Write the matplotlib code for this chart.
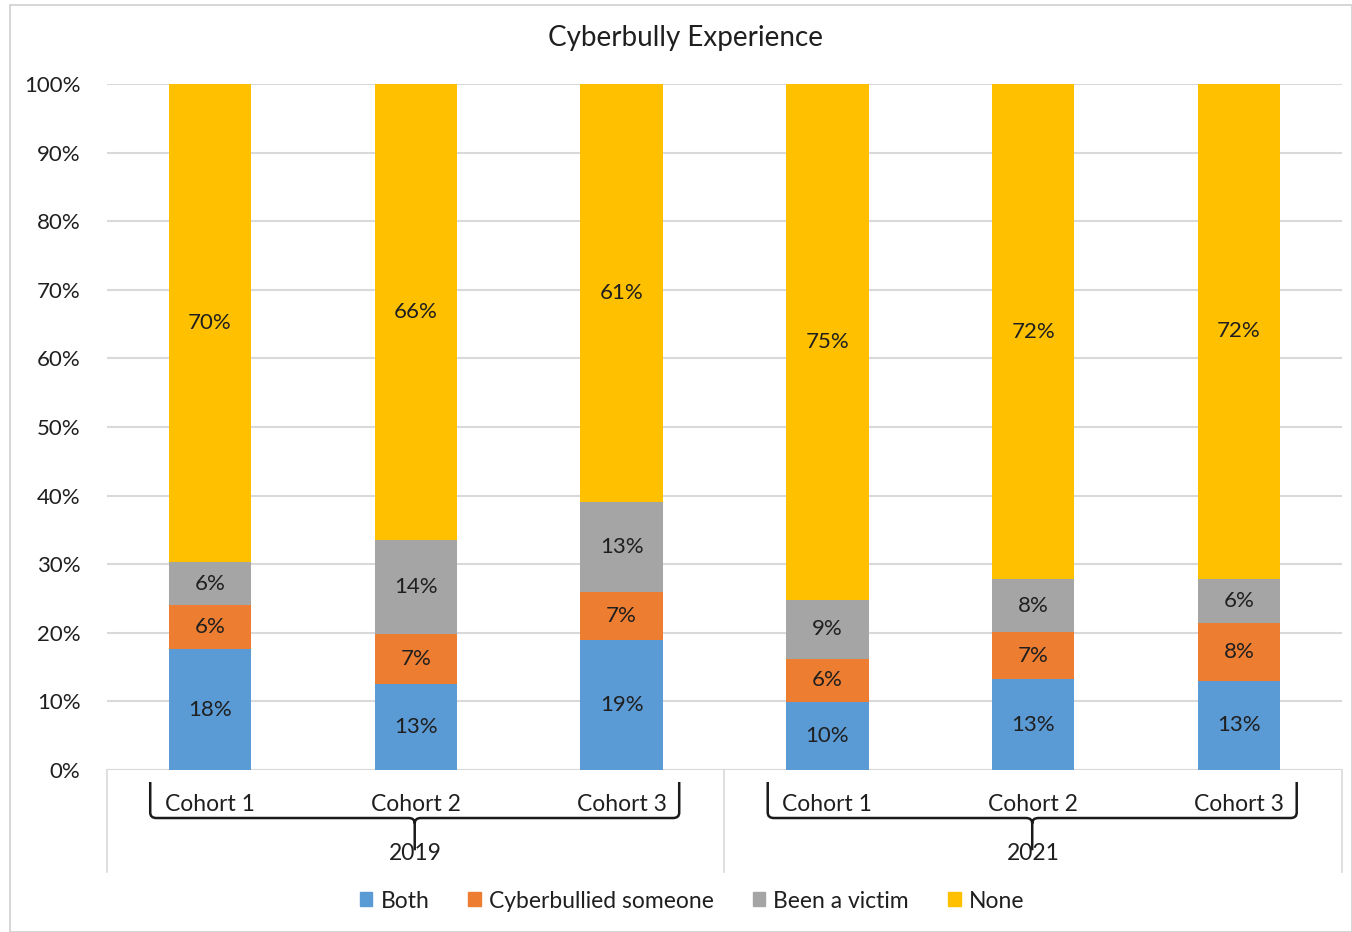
import matplotlib
matplotlib.use("Agg")
import matplotlib.pyplot as plt
from matplotlib.path import Path
from matplotlib.patches import PathPatch, Rectangle
from matplotlib.lines import Line2D
import matplotlib.transforms as mtrans
import numpy as np

plt.rcParams['font.family'] = ['Lato', 'DejaVu Sans']

years = ["2019", "2021"]
cohorts = ["Cohort 1", "Cohort 2", "Cohort 3"]
series_names = ["Both", "Cyberbullied someone", "Been a victim", "None"]
both = [17.6, 12.6, 19.0, 9.9, 13.2, 13.0]
cyberbullied = [6.4, 7.2, 6.9, 6.3, 6.9, 8.45]
victim = [6.3, 13.7, 13.2, 8.6, 7.7, 6.4]
none = [69.7, 66.5, 60.9, 75.2, 72.2, 72.15]
colors = ["#5B9BD5", "#ED7D31", "#A5A5A5", "#FFC000"]
yticks = [0, 10, 20, 30, 40, 50, 60, 70, 80, 90, 100]

W, H = 1352, 932
TXT = "#1f1f1f"
fig = plt.figure(figsize=(W / 100, H / 100), dpi=100)
fig.patch.set_facecolor("white")
fig.add_artist(Rectangle((10 / W, 0), 1 - 10 / W, 1 - 5 / H, transform=fig.transFigure,
                         fill=False, edgecolor="#D0D0D0", linewidth=1.2))

ax = fig.add_axes([107 / W, (H - 770) / H, (1342 - 107) / W, (770 - 84) / H])
n = len(both)
x = np.arange(n)
series = [both, cyberbullied, victim, none]
bottom = np.zeros(n)
for vals, c, name in zip(series, colors, series_names):
    vals = np.array(vals)
    ax.bar(x, vals, 0.40, bottom=bottom, color=c, label=name, zorder=3)
    for xi, b, v in zip(x, bottom, vals):
        ax.text(xi, b + v / 2, f"{round(v)}%", ha="center", va="center",
                fontsize=16, color=TXT, zorder=4)
    bottom = bottom + vals

ax.set_xlim(-0.5, n - 0.5)
ax.set_ylim(0, 100)
ax.set_yticks(yticks)
ax.set_yticklabels([f"{t}%" for t in yticks], fontsize=16, color=TXT)
ax.tick_params(axis="y", length=0, pad=19)
ax.set_xticks([])
for s in ax.spines.values():
    s.set_visible(False)
ax.grid(axis="y", color="#D9D9D9", linewidth=1.5, zorder=0)
ax.axhline(0, color="#D9D9D9", linewidth=1.5, zorder=2)

trans = mtrans.blended_transform_factory(ax.transData, ax.transAxes)
for i in range(n):
    ax.text(x[i], -0.05, cohorts[i % 3], transform=trans, ha="center", va="center",
            fontsize=16.5, color=TXT)
for g, yr in enumerate(years):
    ax.text(g * 3 + 1, -0.121, yr, transform=trans, ha="center", va="center",
            fontsize=16.5, color=TXT)
for xs in [-0.5, 2.5, 5.5]:
    ax.add_line(Line2D([xs, xs], [0, -0.149], transform=trans, color="#D9D9D9",
                       linewidth=1.2, clip_on=False))

def brace(x0, x1, ytop=-0.0175, ymid=-0.07, ytip=-0.117):
    xc = (x0 + x1) / 2
    r = 0.03
    dy = 0.008
    verts = [(x0, ytop), (x0, ymid + dy), (x0, ymid), (x0 + r, ymid),
             (xc - r, ymid), (xc, ymid), (xc, ymid - dy), (xc, ytip),
             (xc, ymid - dy), (xc, ymid), (xc + r, ymid),
             (x1 - r, ymid), (x1, ymid), (x1, ymid + dy), (x1, ytop)]
    codes = [Path.MOVETO, Path.LINETO, Path.CURVE3, Path.CURVE3,
             Path.LINETO, Path.CURVE3, Path.CURVE3, Path.LINETO,
             Path.MOVETO, Path.CURVE3, Path.CURVE3,
             Path.LINETO, Path.CURVE3, Path.CURVE3, Path.LINETO]
    p = PathPatch(Path(verts, codes), transform=trans, fill=False,
                  edgecolor="#1a1a1a", linewidth=1.8, clip_on=False)
    ax.add_patch(p)

for g in range(2):
    brace(g * 3 - 0.29, g * 3 + 2.28)

fig.text(686 / W, (H - 38) / H, "Cyberbully Experience", ha="center", va="center",
         fontsize=20, color=TXT)

handles = [Rectangle((0, 0), 1, 1, color=c) for c in colors]
fig.legend(handles, series_names, loc="center", bbox_to_anchor=(692 / W, (H - 901) / H),
           ncol=4, frameon=False, fontsize=16.5, handlelength=0.55, handleheight=0.55,
           handletextpad=0.35, columnspacing=1.7, labelcolor=TXT)

fig.savefig("out.png", dpi=100)
